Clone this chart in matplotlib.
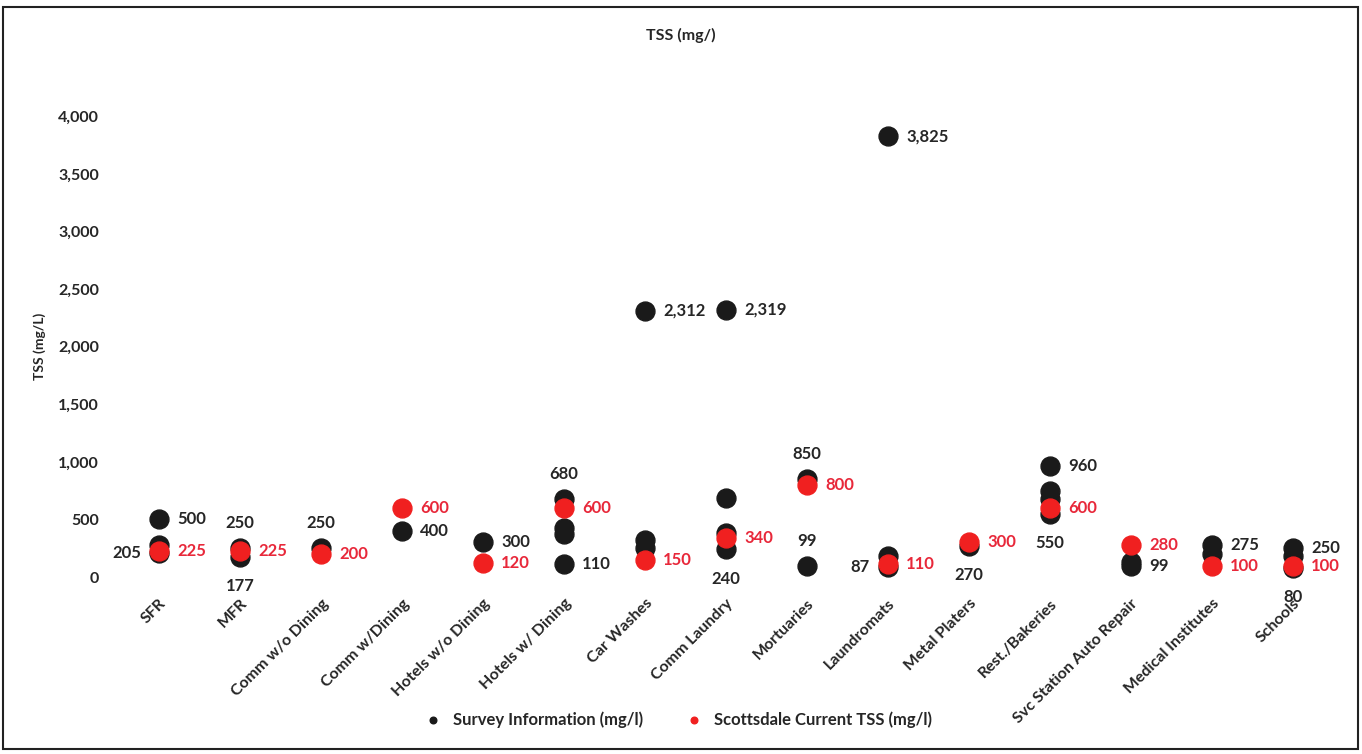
import matplotlib.pyplot as plt
from matplotlib.ticker import FuncFormatter, MultipleLocator
from matplotlib.patches import Rectangle

# ---------- data ----------
categories = ["SFR", "MFR", "Comm w/o Dining", "Comm w/Dining", "Hotels w/o Dining",
              "Hotels w/ Dining", "Car Washes", "Comm Laundry", "Mortuaries",
              "Laundromats", "Metal Platers", "Rest./Bakeries",
              "Svc Station Auto Repair", "Medical Institutes", "Schools"]

# several survey values per category (black dots)
survey_values = [
    [500, 280, 205],
    [250, 177],
    [250],
    [400],
    [300],
    [680, 430, 370, 110],
    [2312, 320, 250],
    [2319, 690, 380, 240],
    [850, 99],
    [3825, 180, 87],
    [270],
    [960, 750, 680, 550],
    [130, 99],
    [275, 200],
    [250, 180, 80],
]
# where the data label goes (None = no label)
survey_label_pos = [
    ["r", None, "l"],
    ["t", "b"],
    ["t"],
    ["r"],
    ["r"],
    ["t", None, None, "r"],
    ["r", None, None],
    ["r", None, None, "b"],
    ["t", "t"],
    ["r", None, "l"],
    ["b"],
    ["r", None, None, "b"],
    [None, "r"],
    ["r", None],
    ["r", None, "b"],
]

scottsdale_values = [225, 225, 200, 600, 120, 600, 150, 340, 800, 110, 300, 600, 280, 100, 100]

# ---------- style ----------
plt.rcParams["font.family"] = ["Lato", "DejaVu Sans"]
plt.rcParams["font.weight"] = "bold"
BLACK = "#1a1a1a"
RED = "#f02020"
RED_TXT = "#e8283a"
TXT = "#262626"

fig = plt.figure(figsize=(13.62, 7.54), dpi=100)
ax = fig.add_axes([0.087, 0.2347, 0.892, 0.611])

x = list(range(len(categories)))

offsets = {"r": (13, 0, "left", "center"), "l": (-13, 0, "right", "center"),
           "t": (0, 18, "center", "center"), "b": (0, -21, "center", "center")}

def put_label(xi, val, pos, color):
    dx, dy, ha, va = offsets[pos]
    ax.annotate(f"{val:,}", (xi, val), xytext=(dx, dy), textcoords="offset points",
                ha=ha, va=va, fontsize=12, color=color, fontweight="bold",
                annotation_clip=False)

# black survey dots
sx, sy = [], []
for i, vals in enumerate(survey_values):
    for v in vals:
        sx.append(i)
        sy.append(v)
ax.scatter(sx, sy, s=185, color=BLACK, zorder=3, clip_on=False,
           label="Survey Information (mg/l)")
for i, vals in enumerate(survey_values):
    for v, p in zip(vals, survey_label_pos[i]):
        if p:
            put_label(i, v, p, TXT)

# red Scottsdale dots
ax.scatter(x, scottsdale_values, s=185, color=RED, zorder=4, clip_on=False,
           label="Scottsdale Current TSS (mg/l)")
for i, v in enumerate(scottsdale_values):
    put_label(i, v, "r", RED_TXT)

# ---------- axes ----------
ax.set_xlim(-0.5, len(categories) - 0.5)
ax.set_ylim(0, 4000)
ax.yaxis.set_major_locator(MultipleLocator(500))
ax.yaxis.set_major_formatter(FuncFormatter(lambda v, _: f"{int(v):,}"))
ax.set_xticks(x)
ax.set_xticklabels(categories, rotation=45, ha="right", rotation_mode="anchor",
                   fontsize=11.5, fontweight="bold", color=TXT)
ax.tick_params(axis="both", length=0)
ax.tick_params(axis="x", pad=14)
ax.tick_params(axis="y", pad=14, labelsize=11.5, labelcolor=TXT)
for t in ax.get_yticklabels():
    t.set_fontweight("bold")
for s in ax.spines.values():
    s.set_visible(False)

ax.set_ylabel("TSS (mg/L)", fontsize=10, fontweight="bold", color=TXT, labelpad=9)
fig.text(0.5, 0.953, "TSS (mg/)", ha="center", va="center", fontsize=11.5,
         fontweight="bold", color=TXT)

fig.legend(loc="center", bbox_to_anchor=(0.495, 0.046), ncol=2, frameon=False,
           markerscale=0.35, handletextpad=0.2, columnspacing=2.0,
           prop={"size": 12, "weight": "bold"}, labelcolor=TXT)

# outer frame
fig.patches.append(Rectangle((0.002, 0.006), 0.995, 0.985, transform=fig.transFigure,
                             fill=False, edgecolor="#222222", linewidth=1.5))

fig.savefig("out.png", dpi=100)
